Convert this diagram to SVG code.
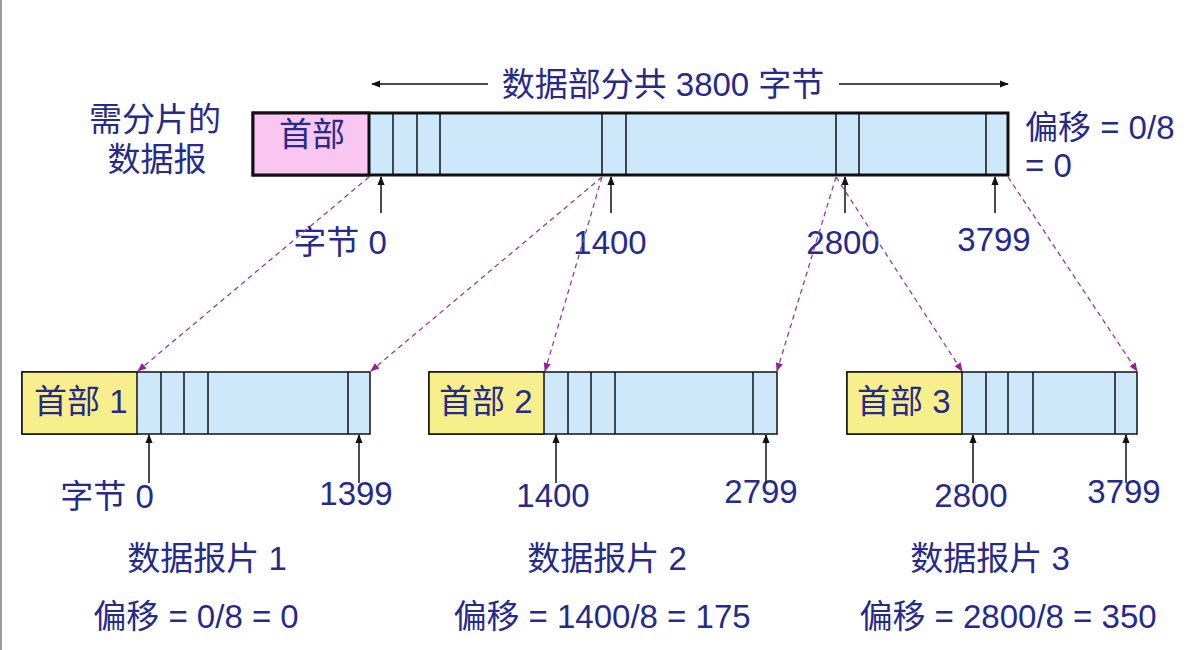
<svg xmlns="http://www.w3.org/2000/svg" width="1201" height="650" viewBox="0 0 1201 650">
<defs>
<marker id="ah" viewBox="0 0 10 10" refX="9" refY="5" markerWidth="9" markerHeight="9" markerUnits="userSpaceOnUse" orient="auto"><path d="M0,1 L10,5 L0,9 z" fill="#111"/></marker>
<marker id="ahp" viewBox="0 0 10 10" refX="9" refY="5" markerWidth="9" markerHeight="9" markerUnits="userSpaceOnUse" orient="auto"><path d="M0,1 L10,5 L0,9 z" fill="#9A1E9A"/></marker>
<style>
text{font-family:"Liberation Sans","Noto Sans CJK SC",sans-serif;font-size:33px;fill:#262A8A}
.m{text-anchor:middle}
.hdrp{fill:#F8C6F0;stroke:#111;stroke-width:2}
.hdry{fill:#F7EF8C;stroke:#111;stroke-width:1.5}
.data{fill:#CDE8FA;stroke:#111;stroke-width:1.5}
.div{stroke:#111;stroke-width:1.5}
.tick{stroke:#111;stroke-width:1.5;marker-end:url(#ah)}
.dash{stroke:#9A3A9A;stroke-width:1.3;stroke-dasharray:5,4;fill:none;marker-end:url(#ahp)}
</style>
</defs>
<rect width="1201" height="650" fill="#fff"/>
<rect x="0" y="0" width="2" height="650" fill="#9a9a9a"/>

<g id="top-datagram">
<rect class="data" x="253" y="113" width="755" height="62" style="stroke-width:3"/>
<rect class="hdrp" x="253" y="113" width="116" height="62" style="stroke-width:3"/>
<line class="div" x1="393" y1="113" x2="393" y2="175"/>
<line class="div" x1="417" y1="113" x2="417" y2="175"/>
<line class="div" x1="440" y1="113" x2="440" y2="175"/>
<line class="div" x1="602" y1="113" x2="602" y2="175"/>
<line class="div" x1="626" y1="113" x2="626" y2="175"/>
<line class="div" x1="836" y1="113" x2="836" y2="175"/>
<line class="div" x1="859" y1="113" x2="859" y2="175"/>
<line class="div" x1="986" y1="113" x2="986" y2="175"/>
<text class="m" x="312" y="146">首部</text>
</g>

<g id="top-labels">
<text class="m" x="155" y="131">需分片的</text>
<text class="m" x="157" y="171">数据报</text>
<text x="1025" y="139">偏移 = 0/8</text>
<text x="1025" y="177">= 0</text>
<text class="m" x="663" y="96">数据部分共 3800 字节</text>
<line x1="488" y1="84" x2="372" y2="84" stroke="#111" stroke-width="1.5" marker-end="url(#ah)"/>
<line x1="839" y1="84" x2="1008" y2="84" stroke="#111" stroke-width="1.5" marker-end="url(#ah)"/>
<text class="m" x="340" y="254">字节 0</text>
<text class="m" x="610" y="254">1400</text>
<text class="m" x="843" y="254">2800</text>
<text class="m" x="994" y="251">3799</text>
</g>

<g id="frag1">
<rect class="data" x="22" y="372" width="348" height="62"/>
<rect class="hdry" x="22" y="372" width="115" height="62"/>
<line class="div" x1="161" y1="372" x2="161" y2="434"/>
<line class="div" x1="184" y1="372" x2="184" y2="434"/>
<line class="div" x1="208" y1="372" x2="208" y2="434"/>
<line class="div" x1="348" y1="372" x2="348" y2="434"/>
<text x="34" y="413">首部 1</text>
<text class="m" x="107" y="508">字节 0</text>
<text class="m" x="356" y="505">1399</text>
<text class="m" x="207" y="570">数据报片 1</text>
<text class="m" x="196" y="628">偏移 = 0/8 = 0</text>
</g>

<g id="frag2">
<rect class="data" x="429" y="372" width="348" height="62"/>
<rect class="hdry" x="429" y="372" width="115" height="62"/>
<line class="div" x1="568" y1="372" x2="568" y2="434"/>
<line class="div" x1="591" y1="372" x2="591" y2="434"/>
<line class="div" x1="615" y1="372" x2="615" y2="434"/>
<line class="div" x1="753" y1="372" x2="753" y2="434"/>
<text x="439" y="413">首部 2</text>
<text class="m" x="553" y="507">1400</text>
<text class="m" x="761" y="503">2799</text>
<text class="m" x="607" y="570">数据报片 2</text>
<text class="m" x="602" y="628">偏移 = 1400/8 = 175</text>
</g>

<g id="frag3">
<rect class="data" x="847" y="372" width="290" height="62"/>
<rect class="hdry" x="847" y="372" width="115" height="62"/>
<line class="div" x1="986" y1="372" x2="986" y2="434"/>
<line class="div" x1="1008" y1="372" x2="1008" y2="434"/>
<line class="div" x1="1033" y1="372" x2="1033" y2="434"/>
<line class="div" x1="1115" y1="372" x2="1115" y2="434"/>
<text x="857" y="413">首部 3</text>
<text class="m" x="971" y="507">2800</text>
<text class="m" x="1124" y="503">3799</text>
<text class="m" x="990" y="570">数据报片 3</text>
<text class="m" x="1008" y="628">偏移 = 2800/8 = 350</text>
</g>

<g id="connectors">
<line class="tick" x1="381" y1="213" x2="381" y2="177"/>
<line class="tick" x1="611" y1="213" x2="611" y2="177"/>
<line class="tick" x1="845" y1="213" x2="845" y2="177"/>
<line class="tick" x1="995" y1="213" x2="995" y2="177"/>
<line class="tick" x1="149" y1="483" x2="149" y2="435"/>
<line class="tick" x1="359" y1="483" x2="359" y2="435"/>
<line class="tick" x1="556" y1="483" x2="556" y2="435"/>
<line class="tick" x1="766" y1="483" x2="766" y2="435"/>
<line class="tick" x1="973" y1="483" x2="973" y2="435"/>
<line class="tick" x1="1126" y1="483" x2="1126" y2="435"/>
<line class="dash" x1="369" y1="177" x2="138" y2="371"/>
<line class="dash" x1="602" y1="177" x2="371" y2="371"/>
<line class="dash" x1="602" y1="177" x2="545" y2="371"/>
<line class="dash" x1="836" y1="177" x2="777" y2="371"/>
<line class="dash" x1="836" y1="177" x2="962" y2="371"/>
<line class="dash" x1="1008" y1="177" x2="1137" y2="371"/>
</g>
</svg>
